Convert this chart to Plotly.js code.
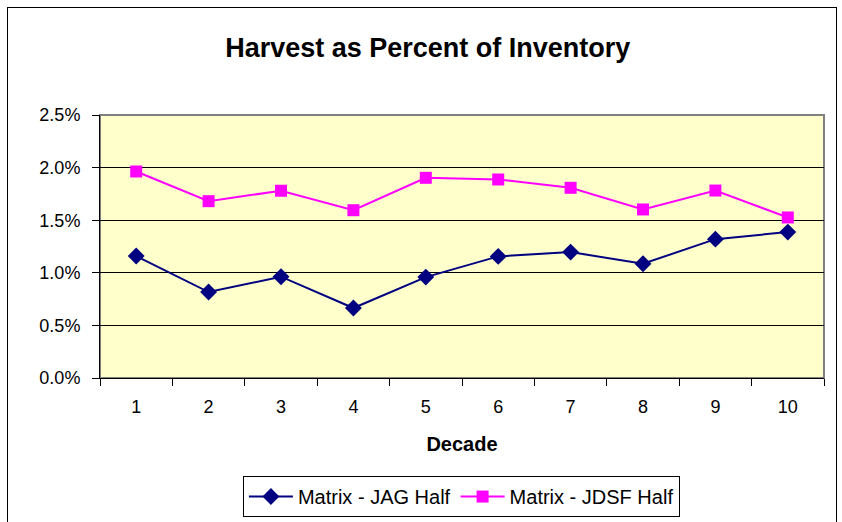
<!DOCTYPE html>
<html>
<head>
<meta charset="utf-8">
<script src="https://cdn.plot.ly/plotly-3.0.1.min.js"></script>
<style>
html,body{margin:0;padding:0;background:#fff;}
#frame{position:absolute;left:7px;top:7px;width:830px;height:540px;border:1px solid #000;box-sizing:border-box;pointer-events:none;z-index:5;}
#chart{position:absolute;left:0;top:0;width:842px;height:522px;}
</style>
</head>
<body>
<div id="chart"></div>
<div id="frame"></div>
<script>
const decades = ['1','2','3','4','5','6','7','8','9','10'];
const jagHalf = [0.01159, 0.00817, 0.00963, 0.00665, 0.00959, 0.01156, 0.01197, 0.01086, 0.01320, 0.01387];
const jdsfHalf = [0.01963, 0.01681, 0.01780, 0.01595, 0.01903, 0.01887, 0.01808, 0.01602, 0.01782, 0.01526];
const yTicks = [0, 0.005, 0.01, 0.015, 0.02, 0.025];

const font = 'Arial, "Liberation Sans", sans-serif';
const traces = [
  {x: decades, y: jagHalf, name: 'Matrix - JAG Half', type: 'scatter', mode: 'lines+markers',
   line: {color: '#000080', width: 2}, marker: {symbol: 'diamond', size: 13, color: '#000080'}},
  {x: decades, y: jdsfHalf, name: 'Matrix - JDSF Half', type: 'scatter', mode: 'lines+markers',
   line: {color: '#FF00FF', width: 2}, marker: {symbol: 'square', size: 12, color: '#FF00FF'}}
];
const layout = {
  width: 842, height: 522,
  margin: {l: 100, r: 18, t: 114.5, b: 144.3, autoexpand: false},
  paper_bgcolor: '#fff', plot_bgcolor: '#FFFFCC',
  font: {family: font, size: 18, color: '#000'},
  title: {text: '<b>Harvest as Percent of Inventory</b>', font: {family: font, size: 27, color: '#000'},
          x: 0.508, xref: 'container', xanchor: 'center', y: 0.909, yref: 'container', yanchor: 'middle'},
  xaxis: {type: 'category', range: [-0.5, 9.5], tickson: 'boundaries', ticks: 'outside', ticklen: 7,
          tickcolor: '#000', showline: true, linecolor: '#000', linewidth: 1, showgrid: false, zeroline: false,
          tickfont: {size: 18}, ticklabelstandoff: 12, fixedrange: true,
          title: {text: '<b>Decade</b>', font: {size: 20}, standoff: 21}},
  yaxis: {range: [0, 0.025], tickvals: yTicks, tickformat: '.1%', ticks: 'outside', ticklen: 7,
          tickcolor: '#000', showline: true, linecolor: '#000', linewidth: 1, ticklabelstandoff: 8,
          showgrid: true, gridcolor: '#000', gridwidth: 1, zeroline: false, tickfont: {size: 18}, fixedrange: true},
  shapes: [{type: 'rect', xref: 'paper', yref: 'paper', x0: 0, x1: 1, y0: 0, y1: 1,
            line: {color: '#808080', width: 2}, layer: 'below'}],
  showlegend: true,
  legend: {orientation: 'h', x: 0.548, xref: 'container', xanchor: 'center', y: 0.088, yref: 'container', yanchor: 'top',
           bgcolor: '#fff', bordercolor: '#000', borderwidth: 1, font: {size: 20}, itemwidth: 44,
           tracegroupgap: 0}
};
Plotly.newPlot('chart', traces, layout, {displayModeBar: false, staticPlot: true});
</script>
</body>
</html>
